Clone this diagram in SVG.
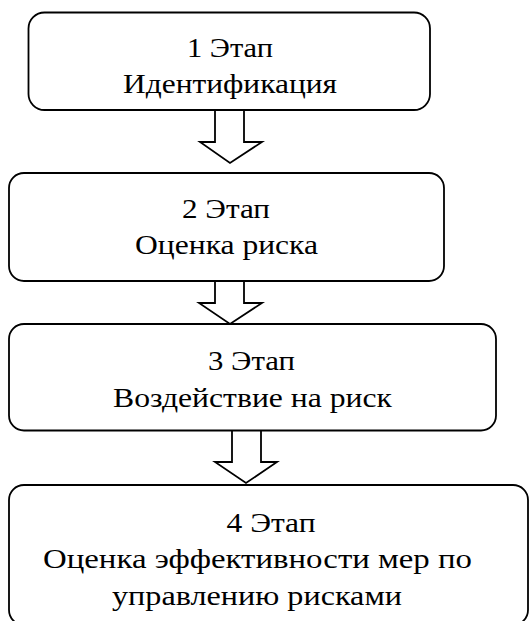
<svg xmlns="http://www.w3.org/2000/svg" width="529" height="621" viewBox="0 0 529 621">
<style>
.box{fill:#fff;stroke:#000;stroke-width:1.8}
.arr{fill:#fff;stroke:#000;stroke-width:1.8;stroke-linejoin:miter}
text{font-family:"Liberation Serif",serif;font-size:28px;fill:#000;text-anchor:middle}
</style>
<rect width="529" height="621" fill="#fff"/>
<g id="connectors">
<path class="arr" d="M215,110 V142 H200 L230,163 L262,142 H244 V110"/>
<path class="arr" d="M215,281 V303 H199 L230,324 L262,303 H244 V281"/>
<path class="arr" d="M232,431 V462 H215 L246,483 L277,462 H261 V431"/>
</g>
<g font-family="Liberation Serif, serif" font-size="28">
<g id="node1">
<rect class="box" x="28.5" y="12.5" width="401.5" height="97.5" rx="16"/>
<text x="230" y="57" textLength="86" lengthAdjust="spacingAndGlyphs">1 Этап</text>
<text x="230" y="93" textLength="214" lengthAdjust="spacingAndGlyphs">Идентификация</text>
</g>
<g id="node2">
<rect class="box" x="9" y="173" width="435" height="108" rx="15"/>
<text x="226" y="218" textLength="88" lengthAdjust="spacingAndGlyphs">2 Этап</text>
<text x="226.5" y="254" textLength="183" lengthAdjust="spacingAndGlyphs">Оценка риска</text>
</g>
<g id="node3">
<rect class="box" x="9" y="324" width="487" height="106.5" rx="15"/>
<text x="251.5" y="370" textLength="87" lengthAdjust="spacingAndGlyphs">3 Этап</text>
<text x="252.5" y="407" textLength="279" lengthAdjust="spacingAndGlyphs">Воздействие на риск</text>
</g>
<g id="node4">
<rect class="box" x="9" y="485" width="519" height="140" rx="15"/>
<text x="271" y="532" textLength="89" lengthAdjust="spacingAndGlyphs">4 Этап</text>
<text x="257.5" y="568" textLength="429" lengthAdjust="spacingAndGlyphs">Оценка эффективности мер по</text>
<text x="257" y="605" textLength="290" lengthAdjust="spacingAndGlyphs">управлению рисками</text>
</g>
</g>
</svg>
